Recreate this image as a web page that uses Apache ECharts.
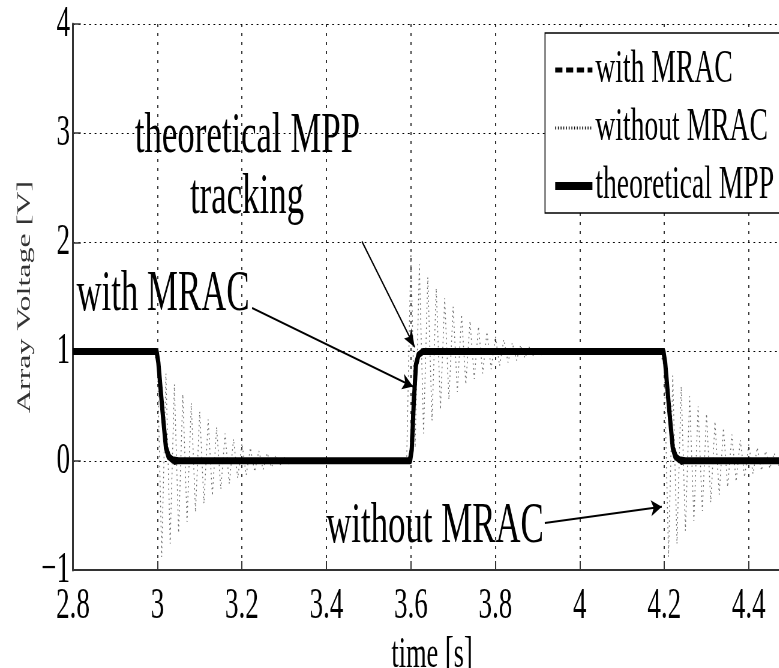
<!DOCTYPE html>
<html><head><meta charset="utf-8">
<script src="https://cdn.jsdelivr.net/npm/echarts@6/dist/echarts.min.js"></script>
<style>
html,body{margin:0;padding:0;overflow:hidden;background:#fff;width:779px;height:668px;}
#wrap{width:779px;height:668px;overflow:hidden;position:relative;}
#chart{height:668px;position:absolute;left:0;top:0;transform-origin:0 0;}
</style></head><body>
<div id="wrap"><div id="chart"></div></div>
<script>
// ---------- data ----------
const xTicks = [2.8, 3.0, 3.2, 3.4, 3.6, 3.8, 4.0, 4.2, 4.4];
const yTicks = [-1, 0, 1, 2, 3, 4];
const xMax = 4.5;
const seriesNames = ['with MRAC', 'without MRAC', 'theoretical MPP'];

// theoretical MPP (thick solid)
const mppPts = [[2.8,1],[2.998,1],[3.002,0.9],[3.012,0.45],[3.02,0.12],[3.026,0.04],[3.035,0.01],[3.05,0],
  [3.598,0],[3.602,0.1],[3.607,0.55],[3.612,0.88],[3.618,0.97],[3.628,1],
  [4.198,1],[4.202,0.9],[4.212,0.45],[4.22,0.12],[4.226,0.04],[4.235,0.01],[4.25,0],[4.5,0]];

// with MRAC (dashed)
const mracPts = [[2.8,1],[2.995,1],[3.0,0.95],[3.01,0.55],[3.02,0.15],[3.03,0.03],[3.04,-0.02],[3.06,0],
  [3.595,0],[3.6,0.1],[3.605,0.55],[3.61,0.82],[3.62,0.96],[3.63,1.01],[3.65,1],
  [4.195,1],[4.2,0.95],[4.21,0.55],[4.22,0.15],[4.23,0.03],[4.24,-0.02],[4.26,0],[4.5,0]];

// without MRAC (dotted), read piece by piece
const noMracHigh1 = [[2.8,1],[2.99,1]];
const noMracFall1 = [[3.00,0.90],[3.01,-0.88],[3.02,0.80],[3.03,-0.76],[3.04,0.70],[3.05,-0.66],[3.06,0.61],[3.07,-0.56],
  [3.08,0.53],[3.09,-0.47],[3.10,0.45],[3.11,-0.39],[3.12,0.38],[3.13,-0.32],[3.14,0.31],[3.15,-0.26],[3.16,0.25],
  [3.17,-0.21],[3.18,0.20],[3.19,-0.16],[3.20,0.16],[3.21,-0.13],[3.22,0.12],[3.23,-0.10],[3.24,0.09],[3.25,-0.08],
  [3.26,0.07],[3.27,-0.06],[3.28,0.05],[3.29,-0.04],[3.30,0.03],[3.31,-0.03],[3.32,0.02],[3.33,-0.02],[3.34,0.01],
  [3.35,-0.01],[3.36,0],[3.59,0]];
const noMracRise = [[3.60,1.92],[3.61,0.12],[3.62,1.80],[3.63,0.25],[3.64,1.68],[3.65,0.37],[3.66,1.58],[3.67,0.47],
  [3.68,1.49],[3.69,0.56],[3.70,1.41],[3.71,0.63],[3.72,1.34],[3.73,0.70],[3.74,1.28],[3.75,0.75],[3.76,1.23],
  [3.77,0.80],[3.78,1.18],[3.79,0.84],[3.80,1.14],[3.81,0.87],[3.82,1.11],[3.83,0.90],[3.84,1.08],[3.85,0.92],
  [3.86,1.06],[3.87,0.94],[3.88,1.04],[3.89,0.96],[3.90,1.03],[3.91,0.97],[3.92,1.02],[3.93,0.98],[3.94,1.01],
  [3.95,0.99],[3.96,1],[4.19,1]];
const noMracFall2 = [[4.20,0.86],[4.21,-0.88],[4.22,0.78],[4.23,-0.76],[4.24,0.68],[4.25,-0.64],[4.26,0.59],[4.27,-0.55],
  [4.28,0.50],[4.29,-0.46],[4.30,0.43],[4.31,-0.38],[4.32,0.36],[4.33,-0.31],[4.34,0.30],[4.35,-0.24],[4.36,0.24],
  [4.37,-0.19],[4.38,0.19],[4.39,-0.15],[4.40,0.15],[4.41,-0.12],[4.42,0.12],[4.43,-0.09],[4.44,0.09],[4.45,-0.07],
  [4.46,0.07],[4.47,-0.05],[4.48,0.05],[4.49,-0.04],[4.50,0.03]];

// annotations (anchor in data units) and arrows
const annotations = [
  {text:'theoretical MPP', t:3.213, v:2.97},
  {text:'tracking', t:3.212, v:2.41},
  {text:'with MRAC', t:3.013, v:1.52},
  {text:'without MRAC', t:3.657, v:-0.6}
];
const arrows = [
  {t0:3.484, v0:2.01, t1:3.609, v1:1.04},
  {t0:3.224, v0:1.40, t1:3.605, v1:0.68},
  {t0:3.917, v0:-0.57, t1:4.194, v1:-0.42}
];

// ---------- layout (figure is horizontally condensed) ----------
const S = 0.6;                 // horizontal condensing of the whole figure
const VW = 779, VH = 668;
const CW = VW / S;
const px = v => v / S;         // on-screen px -> chart px (horizontal)
const FONT = 'Liberation Serif, serif';

const el = document.getElementById('chart');
el.style.width = CW + 'px';
el.style.transform = 'scaleX(' + S + ')';

const chart = echarts.init(el, null, {renderer: 'canvas', width: CW, height: VH, devicePixelRatio: 1});
const noMracPts = [].concat(noMracHigh1, noMracFall1, noMracRise, noMracFall2);

const legendStyles = {
  'with MRAC': {width: 5, type: [12, 6], color: '#000'},
  'without MRAC': {width: 3, type: [1.5, 3], color: '#000'},
  'theoretical MPP': {width: 8, type: 'solid', color: '#000'}
};

const option = {
  animation: false,
  backgroundColor: '#fff',
  grid: {left: px(73), top: 24, bottom: 98, right: CW - px(791), containLabel: false, outerBoundsMode: 'none'},
  legend: {
    orient: 'vertical', left: px(545), top: 33,
    data: seriesNames.map(n => ({name: n, lineStyle: legendStyles[n]})),
    backgroundColor: '#fff', borderColor: '#000', borderWidth: 1.6, borderRadius: 0,
    padding: [14, 30, 4, 13],
    itemWidth: 62, itemHeight: 20, itemGap: 12,
    itemStyle: {opacity: 0},
    textStyle: {fontFamily: FONT, fontSize: 46, lineHeight: 46, color: '#000'}
  },
  xAxis: {
    type: 'value', min: xTicks[0], max: xMax, interval: xTicks[1] - xTicks[0],
    name: 'time [s]', nameLocation: 'middle', nameGap: 41,
    nameTextStyle: {fontFamily: FONT, fontSize: 44, lineHeight: 44, color: '#000'},
    axisLine: {show: true, onZero: false, lineStyle: {color: '#333', width: 2}},
    axisTick: {show: true, inside: true, length: 9, lineStyle: {color: '#333', width: 2}},
    axisLabel: {fontFamily: FONT, fontSize: 45, lineHeight: 45, color: '#000', margin: 14,
      showMaxLabel: false,
      formatter: v => String(Math.round(v * 10) / 10)},
    splitLine: {show: true, lineStyle: {color: '#000', width: 1.6, type: [3, 6]}}
  },
  yAxis: {
    type: 'value', min: yTicks[0], max: yTicks[yTicks.length - 1], interval: yTicks[1] - yTicks[0],
    name: 'Array Voltage [V]', nameLocation: 'middle', nameGap: 60, nameRotate: 90,
    nameTextStyle: {fontFamily: FONT, fontSize: 32, color: '#333'},
    axisLine: {show: true, onZero: false, lineStyle: {color: '#333', width: 3}},
    axisTick: {show: true, inside: true, length: 13, lineStyle: {color: '#333', width: 1.5}},
    axisLabel: {fontFamily: FONT, fontSize: 45, lineHeight: 45, color: '#000', margin: 5,
      formatter: v => v < 0 ? '\u2212' + Math.abs(v) : String(v)},
    splitLine: {show: true, lineStyle: {color: '#000', width: 1.2, type: [3, 6]}}
  },
  series: [
    {name: 'without MRAC', type: 'line', data: noMracPts, symbol: 'none', z: 2,
      lineStyle: {color: '#666', width: 1.4, type: [1.5, 3.5]}, itemStyle: {color: '#666'}},
    {name: 'with MRAC', type: 'line', data: mracPts, symbol: 'none', z: 3,
      lineStyle: {color: '#000', width: 4, type: [12, 6]}, itemStyle: {color: '#000'}},
    {name: 'theoretical MPP', type: 'line', data: mppPts, symbol: 'none', z: 4,
      lineStyle: {color: '#000', width: 7, type: 'solid', join: 'round'}, itemStyle: {color: '#000'},
      markLine: {
        silent: true, symbol: ['none', 'arrow'], symbolSize: [12, 18],
        lineStyle: {color: '#000', width: 2, type: 'solid'},
        label: {show: false}, emphasis: {disabled: true},
        data: arrows.map(a => [{coord: [a.t0, a.v0]}, {coord: [a.t1, a.v1]}])
      }}
  ]
};
chart.setOption(option);

const gfx = annotations.map(a => {
  const p = chart.convertToPixel({gridIndex: 0}, [a.t, a.v]);
  return {type: 'text', x: p[0], y: p[1], z: 100, silent: true,
    style: {text: a.text, fontFamily: FONT, fontSize: 58, fill: '#000',
      align: 'center', verticalAlign: 'middle', textAlign: 'center', textVerticalAlign: 'middle'}};
});
chart.setOption({graphic: gfx});
</script>
</body></html>
